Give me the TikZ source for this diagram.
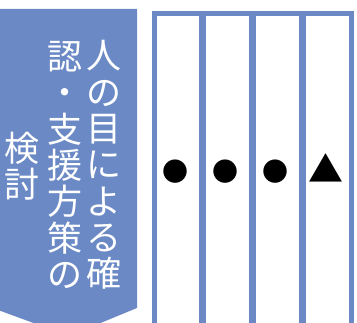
\documentclass[tikz,border=0pt]{standalone}
\usepackage{fontspec}
\newfontfamily\jp{Noto Sans CJK JP}
\definecolor{blu}{RGB}{107,138,197}
\begin{document}
\begin{tikzpicture}[x=1pt,y=-1pt,
  col/.style={inner sep=0pt,outer sep=0pt,align=center,text=white,
    font=\jp\fontsize{35}{36.3}\selectfont},
  colbox/.style={draw=blu,line width=4.5pt,fill=white,minimum width=47.4pt,
    minimum height=330pt,anchor=north west,inner sep=0pt},
  sym/.style={inner sep=0pt,font=\jp\fontsize{26}{26}\selectfont},
  tri/.style={inner sep=0pt,font=\jp\fontsize{35}{35}\selectfont}]
\useasboundingbox (0,0) rectangle (357,323);
\fill[blu] (-2,9) -- (137,9) -- (137,308) -- (69,336) -- (-2,310) -- cycle;
\node[col] (c1) at (104,165) {人\\の\\目\\に\\よ\\る\\確};
\node[col] (c2) at (65,165) {認\\・\\支\\援\\方\\策\\の};
\node[col] (c3) at (22,166.5) {検\\討};
\foreach \i/\x in {1/152,2/201.9,3/251.8,4/301.7}{
  \node[colbox] (r\i) at (\x,11.5) {};
}
\node[sym] (s1) at (175.7,172) {●};
\node[sym] (s2) at (225.6,172) {●};
\node[sym] (s3) at (275.5,172) {●};
\node[tri] (s4) at (326,168.5) {▲};
\end{tikzpicture}
\end{document}
